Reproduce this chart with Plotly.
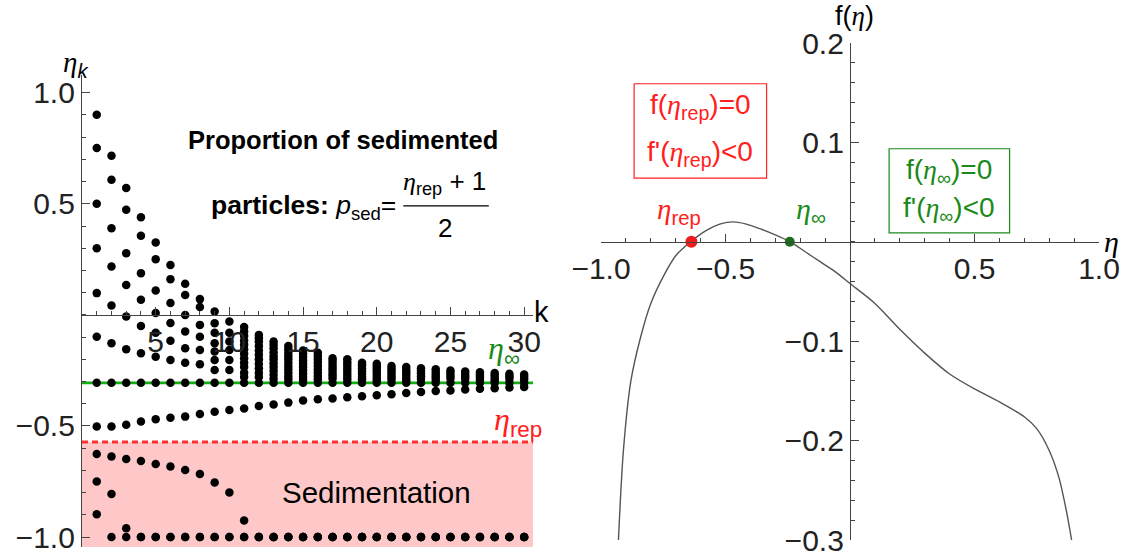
import plotly.graph_objects as go

# ---------------- data: left panel (iterates eta_k) ----------------
k_vals = list(range(1, 31))
eta_inf_level = -0.306
eta_rep_level = -0.572
k_max = 30.6
eta_k_min, eta_k_max = -1.045, 1.08

# dots above eta_inf, one list per k (k = 1..30)
eta_upper_cols = [
    [0.901, 0.751, 0.50, 0.30, 0.098, -0.098],
    [0.716, 0.608, 0.39, 0.218, 0.042, -0.128],
    [0.571, 0.473, 0.278, 0.135, -0.007, -0.155],
    [0.44, 0.356, 0.188, 0.068, -0.05, -0.173],
    [0.326, 0.251, 0.11, 0.008, -0.08, -0.188],
    [0.225, 0.161, 0.053, -0.037, -0.116, -0.203],
    [0.14, 0.09, 0.0, -0.075, -0.15, -0.216],
    [0.071, 0.035, -0.045, -0.098, -0.158, -0.222],
    [0.015, -0.038, -0.08, -0.128, -0.165, -0.203, -0.248],
    [-0.03, -0.08, -0.12, -0.158, -0.203, -0.248],
    [-0.055, -0.075, -0.095, -0.115, -0.135, -0.155, -0.175, -0.195, -0.215, -0.235, -0.26, -0.28],
    [-0.09, -0.105, -0.12, -0.14, -0.16, -0.18, -0.2, -0.22, -0.24, -0.26, -0.28],
    [-0.12, -0.135, -0.15, -0.168, -0.185, -0.2, -0.218, -0.235, -0.252, -0.27, -0.288],
    [-0.14, -0.155, -0.17, -0.185, -0.2, -0.215, -0.23, -0.245, -0.26, -0.275, -0.29],
    [-0.16, -0.175, -0.19, -0.205, -0.22, -0.235, -0.25, -0.265, -0.28, -0.293],
    [-0.17, -0.185, -0.2, -0.215, -0.23, -0.245, -0.26, -0.275, -0.29],
    [-0.195, -0.208, -0.22, -0.233, -0.246, -0.26, -0.273, -0.286],
    [-0.2, -0.213, -0.226, -0.239, -0.252, -0.265, -0.278, -0.291],
    [-0.215, -0.227, -0.24, -0.252, -0.265, -0.278, -0.29],
    [-0.22, -0.232, -0.245, -0.257, -0.27, -0.282, -0.294],
    [-0.23, -0.242, -0.254, -0.266, -0.278, -0.29],
    [-0.235, -0.247, -0.259, -0.271, -0.283, -0.295],
    [-0.24, -0.252, -0.264, -0.276, -0.288],
    [-0.245, -0.257, -0.269, -0.281, -0.293],
    [-0.25, -0.262, -0.274, -0.286],
    [-0.255, -0.266, -0.277, -0.288],
    [-0.258, -0.269, -0.28, -0.291],
    [-0.262, -0.273, -0.284, -0.295],
    [-0.265, -0.276, -0.287],
    [-0.268, -0.279, -0.29],
]
eta_on_inf = [-0.306] * 30
eta_mid = [-0.503, -0.503, -0.495, -0.48, -0.47, -0.463, -0.458, -0.446, -0.436, -0.428,
           -0.421, -0.41, -0.403, -0.395, -0.385, -0.38, -0.376, -0.371, -0.366, -0.362,
           -0.357, -0.352, -0.347, -0.343, -0.34, -0.336, -0.333, -0.33, -0.327, -0.325]
eta_low_a = [-0.626, -0.638, -0.649, -0.658, -0.671, -0.683, -0.698, -0.716, -0.755, -0.80,
             -0.926] + [-1.0] * 19
eta_low_b = [-0.75, -0.806, -0.961] + [-1.0] * 27
eta_low_c = [-0.898] + [-1.0] * 29

# ---------------- data: right panel f(eta) ----------------
eta_grid = [-0.93, -0.91, -0.88, -0.84, -0.80, -0.75, -0.70, -0.64, -0.58, -0.52, -0.47,
            -0.42, -0.36, -0.30, -0.24, -0.18, -0.12, -0.06, 0.0, 0.1, 0.2, 0.3, 0.4, 0.5,
            0.6, 0.7, 0.75, 0.80, 0.84, 0.87, 0.89]
f_vals = [-0.30, -0.21, -0.14, -0.095, -0.062, -0.035, -0.014, 0.0, 0.011, 0.018, 0.020,
          0.018, 0.013, 0.007, 0.0, -0.010, -0.020, -0.030, -0.042, -0.062, -0.088, -0.112,
          -0.133, -0.148, -0.161, -0.176, -0.188, -0.210, -0.238, -0.272, -0.30]
eta_rep_root = -0.637
eta_inf_root = -0.242
eta_min2, eta_max2 = -1.0, 1.0
f_min, f_max = -0.3, 0.2

# ---------------- layout geometry ----------------
W, H = 1128, 558
dom_x1 = [82 / W, 533 / W]
dom_y1 = [(H - 547) / H, (H - 75) / H]
dom_x2 = [601 / W, 1099 / W]
dom_y2 = [(H - 540) / H, (H - 43) / H]

xaxis1_pos = dom_y1[0] + (0 - eta_k_min) / (eta_k_max - eta_k_min) * (dom_y1[1] - dom_y1[0])
xaxis2_pos = dom_y2[0] + (0 - f_min) / (f_max - f_min) * (dom_y2[1] - dom_y2[0])
yaxis2_pos = dom_x2[0] + (0 - eta_min2) / (eta_max2 - eta_min2) * (dom_x2[1] - dom_x2[0])

SANS = "Liberation Sans, Arial, sans-serif"
RED = "#ff2020"
GREEN = "#1a8a1a"
AX = "#444444"


def eta(sub=""):
    s = '<span style="font-family:Liberation Serif"><i>η</i></span>'
    if sub:
        s += "<sub>" + sub + "</sub>"
    return s


fig = go.Figure()

# dots
xs, ys = [], []
for k, col in zip(k_vals, eta_upper_cols):
    xs += [k] * len(col)
    ys += col
for series in (eta_on_inf, eta_mid, eta_low_a, eta_low_b, eta_low_c):
    xs += k_vals
    ys += series
fig.add_trace(go.Scatter(x=xs, y=ys, mode="markers", xaxis="x", yaxis="y",
                         marker=dict(size=8.5, color="black"), showlegend=False,
                         cliponaxis=False, hoverinfo="skip"))

# right curve
fig.add_trace(go.Scatter(x=eta_grid, y=f_vals, mode="lines", xaxis="x2", yaxis="y2",
                         line=dict(color="#555555", width=1.4, shape="spline", smoothing=0.8),
                         showlegend=False, hoverinfo="skip"))
fig.add_trace(go.Scatter(x=[eta_rep_root], y=[0], mode="markers", xaxis="x2", yaxis="y2",
                         marker=dict(size=12, color="#ee1c1c"), showlegend=False, cliponaxis=False))
fig.add_trace(go.Scatter(x=[eta_inf_root], y=[0], mode="markers", xaxis="x2", yaxis="y2",
                         marker=dict(size=10, color="#1e6e1e"), showlegend=False, cliponaxis=False))

shapes = [
    dict(type="rect", xref="x", yref="y", x0=0, x1=k_max, y0=eta_k_min, y1=eta_rep_level,
         fillcolor="rgb(255,200,200)", line=dict(width=0), layer="below"),
    dict(type="line", xref="x", yref="y", x0=0, x1=k_max, y0=eta_inf_level, y1=eta_inf_level,
         line=dict(color="#10b010", width=2.8), layer="below"),
    dict(type="line", xref="x", yref="y", x0=0, x1=k_max, y0=eta_rep_level, y1=eta_rep_level,
         line=dict(color="#ff3030", width=3, dash="6px,4px"), layer="below"),
    # fraction bar
    dict(type="line", xref="x", yref="y", x0=21.8, x1=27.6, y0=0.491, y1=0.491,
         line=dict(color="black", width=1.2)),
    # red box
    dict(type="rect", xref="x2", yref="y2", x0=-0.867, x1=-0.335, y0=0.064, y1=0.159,
         line=dict(color=RED, width=1.2), fillcolor="rgba(0,0,0,0)"),
    # green box
    dict(type="rect", xref="x2", yref="y2", x0=0.157, x1=0.641, y0=0.009, y1=0.0936,
         line=dict(color=GREEN, width=1.2), fillcolor="rgba(0,0,0,0)"),
]

ann = []


def A(x, y, text, xref="x", yref="y", size=24, color="black", xanchor="center", yanchor="middle"):
    ann.append(dict(x=x, y=y, xref=xref, yref=yref, text=text, showarrow=False,
                    font=dict(family=SANS, size=size, color=color),
                    xanchor=xanchor, yanchor=yanchor))


A(17.7, 0.788, "<b>Proportion of sedimented</b>", size=25.5)
A(21.45, 0.486, "<b>particles:</b> <i>p</i><sub>sed</sub>=", size=26.5, xanchor="right")
A(24.6, 0.595, eta("rep") + " + 1", size=26)
A(24.6, 0.392, "2", size=26)
A(19.95, -0.80, "Sedimentation", size=29.5)
A(28.6, -0.16, eta("∞"), size=32, color=GREEN)
A(29.6, -0.48, eta("rep"), size=32, color=RED)
A(541 / W, 1 - 312 / H, "k", xref="paper", yref="paper", size=29)
A(75 / W, 1 - 64 / H, eta("<i>k</i>"), xref="paper", yref="paper", size=29)

A(-0.685, 0.031, eta("rep"), xref="x2", yref="y2", size=29, color=RED)
A(-0.158, 0.031, eta("∞"), xref="x2", yref="y2", size=30, color=GREEN)
A(-0.601, 0.136, "f(" + eta("rep") + ")=0", xref="x2", yref="y2", size=28, color=RED)
A(-0.601, 0.089, "f'(" + eta("rep") + ")<0", xref="x2", yref="y2", size=28, color=RED)
A(0.399, 0.0704, "f(" + eta("∞") + ")=0", xref="x2", yref="y2", size=28, color=GREEN)
A(0.399, 0.032, "f'(" + eta("∞") + ")<0", xref="x2", yref="y2", size=28, color=GREEN)
A(854 / W, 1 - 16 / H, "f(" + eta() + ")", xref="paper", yref="paper", size=27)
A(1111 / W, 1 - 241 / H, eta(), xref="paper", yref="paper", size=30)

tickfont = dict(family=SANS, size=30, color="#222222")
common = dict(showgrid=False, zeroline=False, showline=True, linecolor=AX, linewidth=1.3,
              ticks="inside", tickcolor=AX, tickwidth=1.3, ticklen=8, tickfont=tickfont,
              automargin=False)
minor_common = dict(ticks="inside", ticklen=4, tickcolor=AX, tickwidth=1, tickmode="linear", tick0=0)

fig.update_layout(
    template="none",
    width=W, height=H, autosize=False,
    margin=dict(l=0, r=0, t=0, b=0, pad=0),
    paper_bgcolor="white", plot_bgcolor="white",
    showlegend=False,
    xaxis=dict(domain=dom_x1, range=[0, k_max], anchor="free", position=xaxis1_pos,
               tickmode="array", tickvals=[5, 10, 15, 20, 25, 30],
               ticktext=["5", "10", "15", "20", "25", "30"],
               minor=dict(dtick=1, **minor_common), **common),
    yaxis=dict(domain=dom_y1, range=[eta_k_min, eta_k_max], anchor="x",
               tickmode="array", tickvals=[-1.0, -0.5, 0.5, 1.0],
               ticktext=["−1.0", "−0.5", "0.5", "1.0"],
               minor=dict(dtick=0.1, **minor_common), **common),
    xaxis2=dict(domain=dom_x2, range=[eta_min2, eta_max2], anchor="free", position=xaxis2_pos,
                tickmode="array", tickvals=[-1.0, -0.5, 0.5, 1.0],
                ticktext=["−1.0", "−0.5", "0.5", "1.0"],
                minor=dict(dtick=0.1, **minor_common), **common),
    yaxis2=dict(domain=dom_y2, range=[f_min, f_max], anchor="free", position=yaxis2_pos,
                tickmode="array", tickvals=[-0.3, -0.2, -0.1, 0.1, 0.2],
                ticktext=["−0.3", "−0.2", "−0.1", "0.1", "0.2"],
                minor=dict(dtick=0.02, **minor_common), **common),
    shapes=shapes,
    annotations=ann,
)

fig.write_html("out.html")
